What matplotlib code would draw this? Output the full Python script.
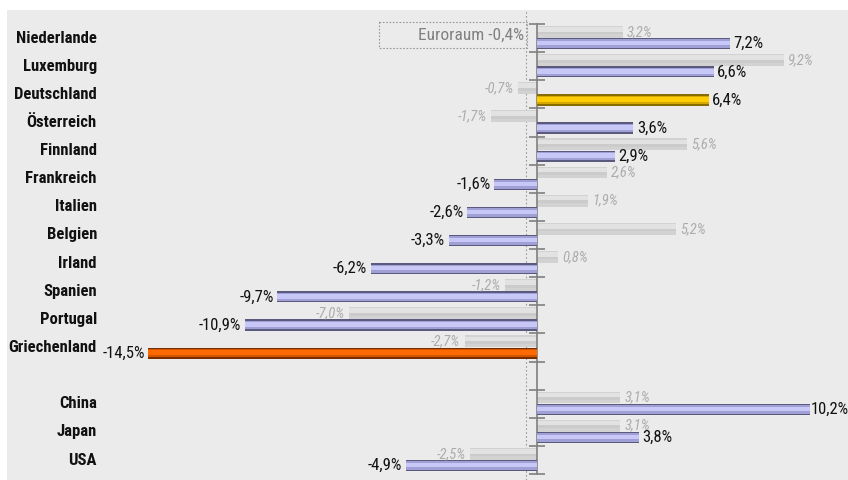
import matplotlib
matplotlib.use("Agg")
import matplotlib.pyplot as plt
import matplotlib.font_manager as fm
from matplotlib.patches import Rectangle

names = {f.name for f in fm.fontManager.ttflist}
prefer = ['Liberation Sans Narrow', 'Arial Narrow', 'Roboto Condensed', 'Open Sans Condensed',
          'Noto Sans Condensed', 'DejaVu Sans Condensed', 'Nimbus Sans Narrow']
font = None
stretch = 'normal'
for p in prefer:
    if p in names:
        font = p
        break
if font is None:
    for f in fm.fontManager.ttflist:
        if f.name in ('Noto Sans', 'Roboto', 'Open Sans', 'DejaVu Sans') and str(f.stretch) in ('condensed', 'semi-condensed', '75', '87.5', 'extra-condensed'):
            font = f.name
            stretch = f.stretch
            break
if font is None:
    font = 'Roboto'
plt.rcParams['font.family'] = [font, 'DejaVu Sans']
plt.rcParams['font.stretch'] = stretch

countries = ["Niederlande", "Luxemburg", "Deutschland", "Österreich", "Finnland",
             "Frankreich", "Italien", "Belgien", "Irland", "Spanien", "Portugal",
             "Griechenland", "China", "Japan", "USA"]
prev_values = [3.2, 9.2, -0.7, -1.7, 5.6, 2.6, 1.9, 5.2, 0.8, -1.2, -7.0, -2.7, 3.1, 3.1, -2.5]
curr_values = [7.2, 6.6, 6.4, 3.6, 2.9, -1.6, -2.6, -3.3, -6.2, -9.7, -10.9, -14.5, 10.2, 3.8, -4.9]
slots = [0, 1, 2, 3, 4, 5, 6, 7, 8, 9, 10, 11, 13, 14, 15]
euro_value = -0.4
euro_label = "Euroraum -0,4%"

purple = ['#5a5a7e', '#a0a0d4', '#c8c8f8']
gold = ['#8a6d00', '#d4a800', '#ffcc00']
orange = ['#7a2e00', '#d45500', '#ff6a00']
greys = ['#d2d2d2', '#e2e2e2', '#cbcbcb']

def fmt(v):
    return f"{v:.1f}".replace('.', ',') + '%'

fig = plt.figure(figsize=(8.48, 4.8), dpi=100, facecolor='white')
ax = fig.add_axes([7/848, 0, 841/848, 470/480])
ax.set_facecolor('#ebebeb')
ax.set_xlim(-530/26.8, 311/26.8)
ax.set_ylim(16.21, -0.498)

for s in ['top', 'right', 'bottom']:
    ax.spines[s].set_visible(False)
ax.spines['left'].set_position(('data', 0))
ax.spines['left'].set_bounds(0, 16)
ax.spines['left'].set_color('#808080')
ax.spines['left'].set_linewidth(1.2)
ax.set_yticks(range(0, 17))
ax.set_yticklabels([])
ax.tick_params(axis='y', direction='inout', length=11, color='#808080', width=1.2)
ax.set_xticks([])

ax.axvline(euro_value, color='#999999', lw=0.8, ls=(0, (1.5, 2)), zorder=1)

narrow = font != 'Roboto'
cat_size = 12 if narrow else 10
val_size = 12 if narrow else 10
prev_size = 10.5 if narrow else 8.5
euro_size = 12.5 if narrow else 11

xmax = ax.get_xlim()[1]
for i, (c, pv, cv, s) in enumerate(zip(countries, prev_values, curr_values, slots)):
    yg = s + 0.28
    ax.barh(yg, pv, height=0.42, color=greys[0], zorder=2)
    ax.barh(yg - 0.09, pv, height=0.16, color=greys[1], zorder=2)
    ax.barh(yg + 0.04, pv, height=0.10, color=greys[2], zorder=2)
    if c == "Deutschland":
        cols = gold
    elif c == "Griechenland":
        cols = orange
    else:
        cols = purple
    yc = s + 0.70
    ax.barh(yc, cv, height=0.40, color=cols[0], zorder=3)
    ax.barh(yc, cv, height=0.30, color=cols[1], zorder=3)
    ax.barh(yc - 0.02, cv, height=0.16, color=cols[2], zorder=3)

    ax.text(-16.42, s + 0.5, c, ha='right', va='center', fontsize=cat_size,
            fontweight='bold', color='#111111')
    off = 3 if pv >= 0 else -3
    ax.annotate(fmt(pv), (pv, yg), xytext=(off, 0), textcoords='offset points',
                ha='left' if pv >= 0 else 'right', va='center', fontsize=prev_size,
                style='italic', color='#acacac', zorder=4)
    if cv >= 0:
        off = 2.5 if cv < xmax - 1.5 else 0.3
    else:
        off = -2.5
    ax.annotate(fmt(cv), (cv, yc), xytext=(off, 0), textcoords='offset points',
                ha='left' if cv >= 0 else 'right', va='center', fontsize=val_size,
                color='#111111', zorder=5)

ax.add_patch(Rectangle((-158/26.8, -0.07), 148/26.8, 0.92, fill=False,
                       edgecolor='#999999', lw=0.8, ls=(0, (1.5, 1.5)), zorder=4))
ax.text(-13/26.8, 0.39, euro_label, ha='right', va='center', fontsize=euro_size,
        color='#808080', zorder=5)

fig.savefig('out.png', dpi=100, facecolor='white')
